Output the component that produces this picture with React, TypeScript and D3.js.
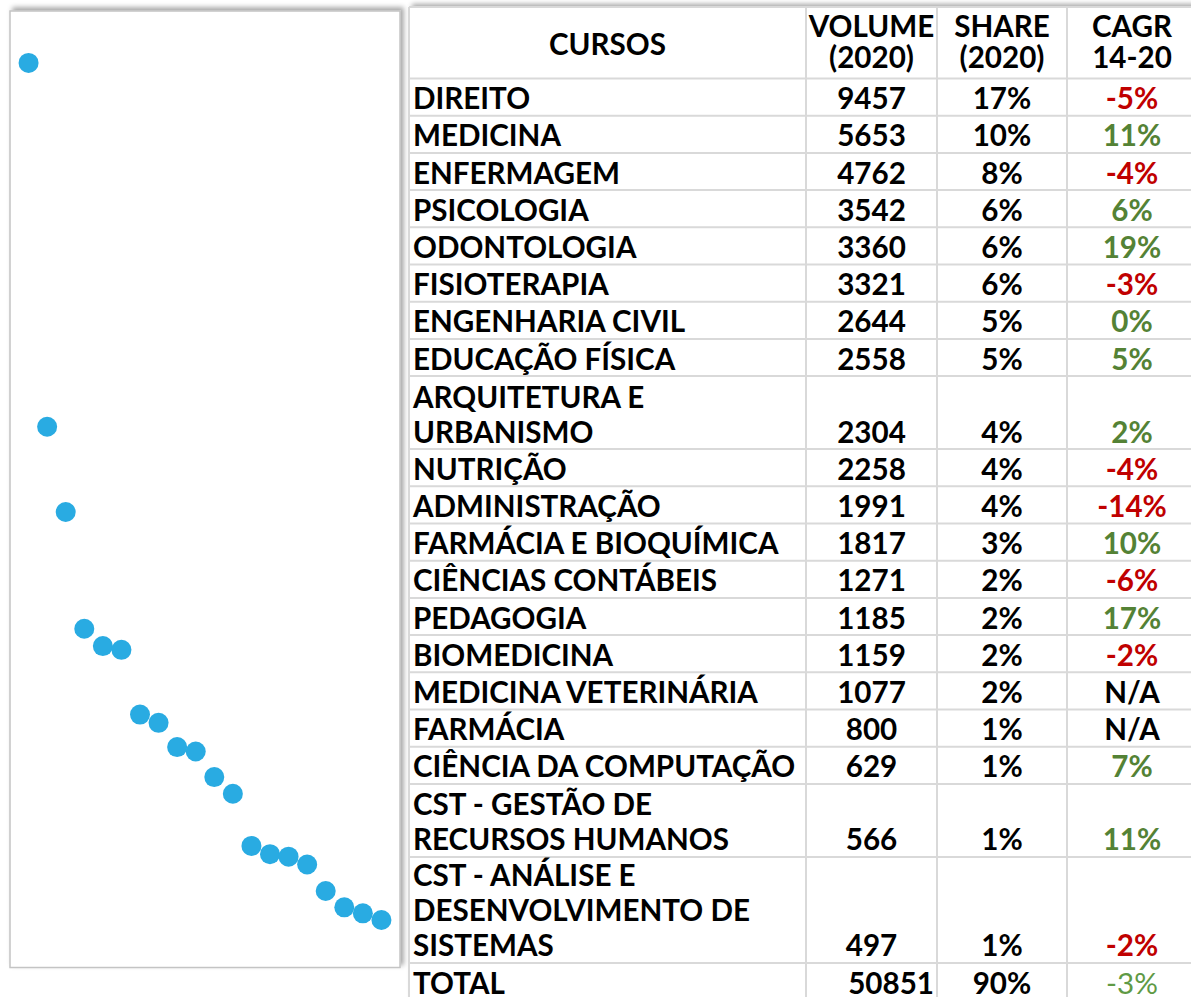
import * as d3 from 'd3';

// course names (\n = wrapped line in the cell)
const cursos = [
    'DIREITO',
    'MEDICINA',
    'ENFERMAGEM',
    'PSICOLOGIA',
    'ODONTOLOGIA',
    'FISIOTERAPIA',
    'ENGENHARIA CIVIL',
    'EDUCAÇÃO FÍSICA',
    'ARQUITETURA E\nURBANISMO',
    'NUTRIÇÃO',
    'ADMINISTRAÇÃO',
    'FARMÁCIA E BIOQUÍMICA',
    'CIÊNCIAS CONTÁBEIS',
    'PEDAGOGIA',
    'BIOMEDICINA',
    'MEDICINA VETERINÁRIA',
    'FARMÁCIA',
    'CIÊNCIA DA COMPUTAÇÃO',
    'CST - GESTÃO DE\nRECURSOS HUMANOS',
    'CST - ANÁLISE E\nDESENVOLVIMENTO DE\nSISTEMAS',
];
const volumes = [9457, 5653, 4762, 3542, 3360, 3321, 2644, 2558, 2304, 2258, 1991, 1817, 1271, 1185, 1159, 1077, 800, 629, 566, 497];
const shares = [17, 10, 8, 6, 6, 6, 5, 5, 4, 4, 4, 3, 2, 2, 2, 2, 1, 1, 1, 1];
const cagr: (number | null)[] = [-5, 11, -4, 6, 19, -3, 0, 5, 2, -4, -14, 10, -6, 17, -2, null, null, 7, 11, -2];
const headers = [['CURSOS'], ['VOLUME', '(2020)'], ['SHARE', '(2020)'], ['CAGR', '14-20']];
const totalVolume = 50851;
const totalShare = 90;
const totalCagr = -3;

const RED = '#C00000';
const GREEN = '#548235';
const FONT = 'Lato, "Noto Sans", sans-serif';

const App = () => {
    const width = 1191;
    const height = 997;

    // scatter panel: x = rank, y = volume
    const box = { x0: 10, x1: 400, y0: 11, y1: 967.5 };
    const x = d3.scaleLinear().domain([0, volumes.length + 1]).range([box.x0, box.x1]);
    const y = d3.scaleLinear().domain([0, 10000]).range([box.y1, box.y0]);

    // table layout
    const cols = [409, 806, 937, 1067, 1197];
    const headerTop = 7;
    const headerBottom = 78.5;
    const rowH = [37.2, 73, 106];
    const lineStep = 35;

    const rows = cursos.map((c, i) => ({ lines: c.split('\n'), vol: volumes[i], share: shares[i], cagr: cagr[i] }));
    let acc = headerBottom;
    const bounds = rows.map((r) => {
        const top = acc;
        acc += rowH[r.lines.length - 1];
        return { top, bottom: acc };
    });
    const totalBottom = acc + rowH[0];
    const hLines = [headerTop, headerBottom, ...bounds.map((b) => b.bottom), totalBottom];
    const mid = (i: number) => (cols[i] + cols[i + 1]) / 2;

    return (
        <svg width={width} height={height} style={{ position: 'absolute', left: 0, top: 0 }} fontFamily={FONT}>
            <defs>
                <filter id="shadow" x="-5%" y="-5%" width="110%" height="110%">
                    <feDropShadow dx="3" dy="-3" stdDeviation="2.5" floodColor="#000" floodOpacity="0.35" />
                </filter>
            </defs>

            {/* left panel */}
            <rect
                x={box.x0}
                y={box.y0}
                width={box.x1 - box.x0}
                height={box.y1 - box.y0}
                fill="#fff"
                stroke="#c4c4c4"
                strokeWidth={1.5}
                filter="url(#shadow)"
            />
            {volumes.map((v, i) => (
                <circle key={i} cx={x(i + 1)} cy={y(v)} r={10} fill="#29ABE2" />
            ))}

            {/* table */}
            <rect x={cols[0]} y={headerTop} width={width - cols[0] + 10} height={height} fill="#fff" filter="url(#shadow)" />
            <g stroke="#d9d9d9" strokeWidth={2}>
                {hLines.map((yy, i) => (
                    <line key={'h' + i} x1={cols[0]} x2={width + 10} y1={yy} y2={yy} />
                ))}
                {cols.map((xx, i) => (
                    <line key={'v' + i} x1={xx} x2={xx} y1={headerTop} y2={height + 10} />
                ))}
            </g>

            <g fontSize={29.6} fontWeight="bold" fill="#000">
                <text x={mid(0)} y={55} textAnchor="middle">
                    {headers[0][0]}
                </text>
                {headers.slice(1).map((h, i) => (
                    <g key={i}>
                        <text x={mid(i + 1)} y={36.5} textAnchor="middle">
                            {h[0]}
                        </text>
                        <text x={mid(i + 1)} y={68} textAnchor="middle">
                            {h[1]}
                        </text>
                    </g>
                ))}

                {rows.map((r, i) => {
                    const base = bounds[i].bottom - 6.5;
                    const n = r.lines.length;
                    return (
                        <g key={i}>
                            {r.lines.map((l, j) => (
                                <text key={j} x={cols[0] + 4} y={base - (n - 1 - j) * lineStep}>
                                    {l}
                                </text>
                            ))}
                            <text x={mid(1)} y={base} textAnchor="middle">
                                {r.vol}
                            </text>
                            <text x={mid(2)} y={base} textAnchor="middle">
                                {r.share}%
                            </text>
                            <text
                                x={mid(3)}
                                y={base}
                                textAnchor="middle"
                                fill={r.cagr === null ? '#000' : r.cagr < 0 ? RED : GREEN}
                            >
                                {r.cagr === null ? 'N/A' : `${r.cagr}%`}
                            </text>
                        </g>
                    );
                })}

                <text x={cols[0] + 4} y={totalBottom - 6}>
                    TOTAL
                </text>
                <text x={cols[2] - 3} y={totalBottom - 6} textAnchor="end">
                    {totalVolume}
                </text>
                <text x={mid(2)} y={totalBottom - 6} textAnchor="middle">
                    {totalShare}%
                </text>
                <text x={mid(3)} y={totalBottom - 6} textAnchor="middle" fontWeight="normal" fill="#5f9a45">
                    {totalCagr}%
                </text>
            </g>
        </svg>
    );
};

export default App;
